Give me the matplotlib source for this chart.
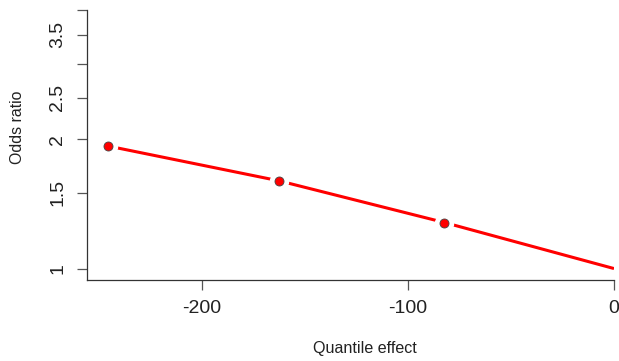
import matplotlib
matplotlib.use("Agg")
import matplotlib.pyplot as plt
import numpy as np

plt.rcParams['font.family'] = ['Liberation Sans', 'DejaVu Sans']

# data
line_x = [-245.8, -162.4, -82.3, 0.0]
line_y = [1.93, 1.60, 1.28, 1.0]
point_x = [-245.8, -162.4, -82.3]
point_y = [1.93, 1.60, 1.28]
xticks = [-200, -100, 0]
xtick_labels = ["-200", "-100", "0"]
yticks = [1, 1.5, 2, 2.5, 3, 3.5, 4]
ytick_labels = ["1", "1.5", "2", "2.5", "", "3.5", ""]

fig = plt.figure(figsize=(6.19, 3.61), dpi=100)
W, H = 619, 361
left, right, bottom, top = 86.5, 614, 279.5, 10
ax = fig.add_axes([left / W, 1 - bottom / H, (right - left) / W, (bottom - top) / H])

ax.set_yscale('log')
ax.plot(line_x, line_y, color='red', lw=2.2, solid_capstyle='butt', zorder=2)
ax.plot(point_x, point_y, ls='none', marker='o', ms=13, mfc='white', mec='white', zorder=3)
ax.plot(point_x, point_y, ls='none', marker='o', ms=6.5, mfc='red', mec='#444444', mew=0.6, zorder=4)

ax.set_xlim(-256, 0)
ax.set_ylim(0.943, 4.0)

ax.set_xticks(xticks)
ax.set_xticklabels(xtick_labels)
ax.yaxis.set_minor_locator(matplotlib.ticker.NullLocator())
ax.yaxis.set_minor_formatter(matplotlib.ticker.NullFormatter())
ax.set_yticks(yticks)
ax.set_yticklabels(ytick_labels, rotation=90, va='center')

ax.spines['top'].set_visible(False)
ax.spines['right'].set_visible(False)
for s in ('left', 'bottom'):
    ax.spines[s].set_color('#333333')
    ax.spines[s].set_linewidth(0.9)
ax.tick_params(axis='both', length=7, width=0.9, color='#555555', labelsize=14, labelcolor='#222222')
ax.tick_params(axis='x', pad=7.5)
ax.tick_params(axis='y', pad=7.5)

fig.text(364.5 / W, 1 - 348 / H, "Quantile effect", ha='center', va='center', fontsize=11.6, color='#222222')
fig.text(18 / W, 1 - 127 / H, "Odds ratio", ha='center', va='center', rotation=90, fontsize=11.4, color='#222222')

fig.savefig("out.png", dpi=100)
